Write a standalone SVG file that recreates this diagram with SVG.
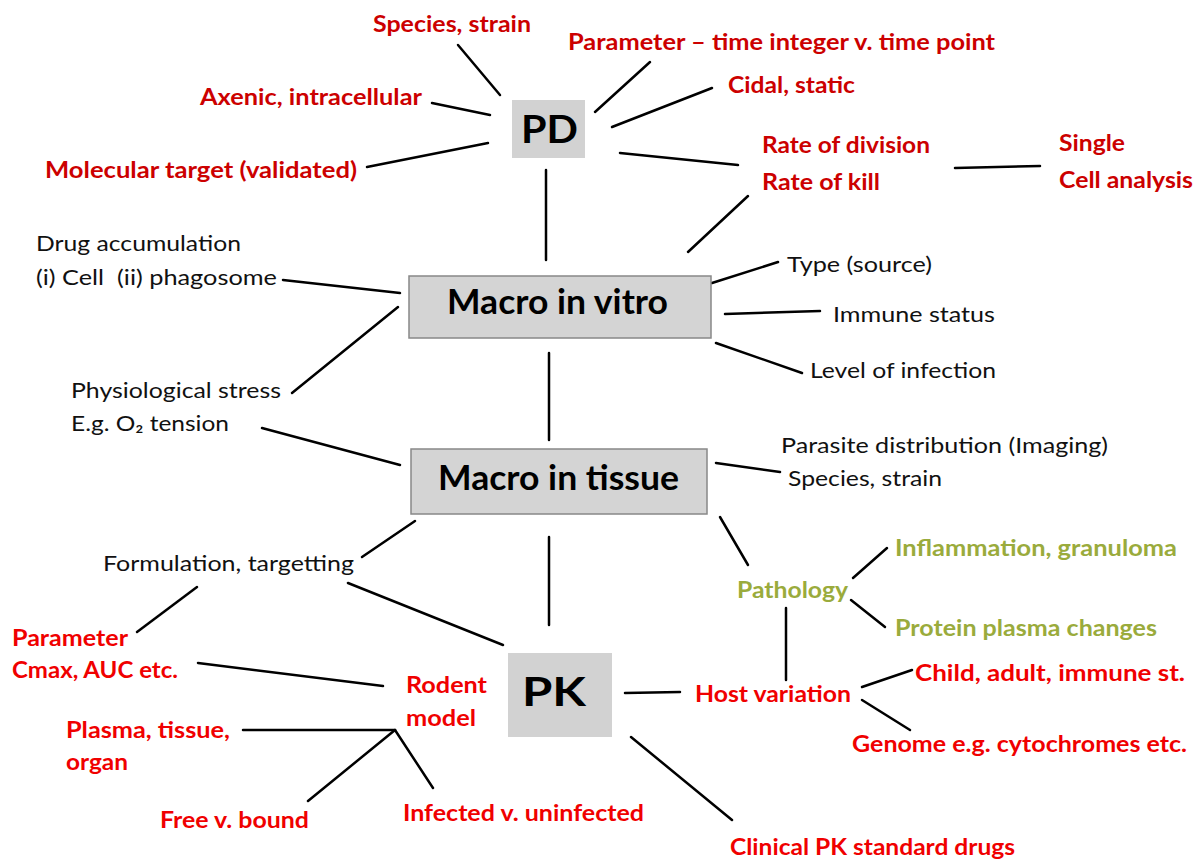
<svg xmlns="http://www.w3.org/2000/svg" width="1200" height="861" viewBox="0 0 1200 861">
<style>
text{font-family:Lato,"Open Sans","Liberation Sans",sans-serif;}
.r{fill:#cc0000;font-weight:bold;font-size:23px;}
.rb{fill:#f00000;font-weight:bold;font-size:23px;}
.g{fill:#9aab3c;font-weight:bold;font-size:23px;}
.k{fill:#111;font-size:22px;}
.n{fill:#000;font-weight:bold;}
.c line{stroke:#000;stroke-width:2.5;stroke-linecap:round;}
</style>
<rect width="1200" height="861" fill="#fff"/>
<g class="c" id="connectors">
<line x1="458" y1="45" x2="500" y2="95"/>
<line x1="650" y1="62" x2="595" y2="112"/>
<line x1="712" y1="88" x2="612" y2="127"/>
<line x1="432" y1="103" x2="490" y2="115"/>
<line x1="367" y1="167" x2="488" y2="143"/>
<line x1="620" y1="153" x2="738" y2="165"/>
<line x1="955" y1="168" x2="1040" y2="166"/>
<line x1="748" y1="196" x2="688" y2="252"/>
<line x1="546" y1="170" x2="546" y2="260"/>
<line x1="283" y1="280" x2="400" y2="293"/>
<line x1="712" y1="283" x2="778" y2="262"/>
<line x1="725" y1="314" x2="820" y2="311"/>
<line x1="716" y1="343" x2="802" y2="373"/>
<line x1="398" y1="307" x2="292" y2="393"/>
<line x1="549" y1="353" x2="549" y2="440"/>
<line x1="262" y1="428" x2="400" y2="465"/>
<line x1="716" y1="463" x2="780" y2="472"/>
<line x1="720" y1="517" x2="748" y2="565"/>
<line x1="853" y1="578" x2="887" y2="548"/>
<line x1="851" y1="600" x2="885" y2="627"/>
<line x1="786" y1="608" x2="786" y2="680"/>
<line x1="862" y1="687" x2="912" y2="670"/>
<line x1="862" y1="700" x2="910" y2="730"/>
<line x1="625" y1="693" x2="680" y2="692"/>
<line x1="631" y1="737" x2="732" y2="820"/>
<line x1="549" y1="537" x2="549" y2="625"/>
<line x1="415" y1="521" x2="362" y2="557"/>
<line x1="348" y1="583" x2="503" y2="645"/>
<line x1="197" y1="587" x2="137" y2="632"/>
<line x1="198" y1="663" x2="383" y2="686"/>
<line x1="243" y1="730" x2="395" y2="730"/>
<line x1="395" y1="730" x2="308" y2="801"/>
<line x1="395" y1="730" x2="433" y2="788"/>
</g>
<g id="pd"><rect x="512" y="100" width="73" height="58" fill="#d2d2d2"/><text class="n" x="521" y="143" font-size="38" textLength="57" lengthAdjust="spacingAndGlyphs">PD</text></g>
<g id="macro-vitro"><rect x="409" y="276" width="302" height="62" fill="#d4d4d4" stroke="#888" stroke-width="1.5"/><text class="n" x="447" y="314" font-size="34" textLength="221" lengthAdjust="spacingAndGlyphs">Macro in vitro</text></g>
<g id="macro-tissue"><rect x="411" y="449" width="296" height="65" fill="#d4d4d4" stroke="#888" stroke-width="1.5"/><text class="n" x="438" y="490" font-size="34" textLength="241" lengthAdjust="spacingAndGlyphs">Macro in tissue</text></g>
<g id="pk"><rect x="508" y="653" width="104" height="84" fill="#d2d2d2"/><text class="n" x="522" y="706" font-size="40" textLength="64" lengthAdjust="spacingAndGlyphs">PK</text></g>
<g id="species1"><text class="r" x="373" y="32" textLength="158" lengthAdjust="spacingAndGlyphs">Species, strain</text></g>
<g id="parameter-time"><text class="r" x="568" y="50" textLength="427" lengthAdjust="spacingAndGlyphs">Parameter – time integer v. time point</text></g>
<g id="cidal"><text class="r" x="728" y="93" textLength="127" lengthAdjust="spacingAndGlyphs">Cidal, static</text></g>
<g id="axenic"><text class="r" x="200" y="105" textLength="222" lengthAdjust="spacingAndGlyphs">Axenic, intracellular</text></g>
<g id="molecular"><text class="r" x="45" y="178" textLength="312" lengthAdjust="spacingAndGlyphs">Molecular target (validated)</text></g>
<g id="rate"><text class="r" x="762" y="153" textLength="168" lengthAdjust="spacingAndGlyphs">Rate of division</text><text class="r" x="762" y="190" textLength="118" lengthAdjust="spacingAndGlyphs">Rate of kill</text></g>
<g id="single"><text class="r" x="1059" y="151" textLength="66" lengthAdjust="spacingAndGlyphs">Single</text><text class="r" x="1059" y="188" textLength="134" lengthAdjust="spacingAndGlyphs">Cell analysis</text></g>
<g id="drug"><text class="k" x="36" y="251" textLength="205" lengthAdjust="spacingAndGlyphs">Drug accumulation</text><text class="k" x="36" y="285" textLength="241" lengthAdjust="spacingAndGlyphs" xml:space="preserve">(i) Cell  (ii) phagosome</text></g>
<g id="type"><text class="k" x="787" y="272" textLength="145" lengthAdjust="spacingAndGlyphs">Type (source)</text></g>
<g id="immune"><text class="k" x="833" y="322" textLength="162" lengthAdjust="spacingAndGlyphs">Immune status</text></g>
<g id="level"><text class="k" x="810" y="378" textLength="186" lengthAdjust="spacingAndGlyphs">Level of infection</text></g>
<g id="physio"><text class="k" x="71" y="398" textLength="210" lengthAdjust="spacingAndGlyphs">Physiological stress</text><text class="k" x="71" y="431" textLength="158" lengthAdjust="spacingAndGlyphs">E.g. O₂ tension</text></g>
<g id="parasite"><text class="k" x="781" y="453" textLength="327" lengthAdjust="spacingAndGlyphs">Parasite distribution (Imaging)</text><text class="k" x="788" y="486" textLength="154" lengthAdjust="spacingAndGlyphs">Species, strain</text></g>
<g id="pathology"><text class="g" x="737" y="598" textLength="111" lengthAdjust="spacingAndGlyphs">Pathology</text></g>
<g id="inflammation"><text class="g" x="895" y="556" textLength="282" lengthAdjust="spacingAndGlyphs">Inflammation, granuloma</text></g>
<g id="protein"><text class="g" x="895" y="636" textLength="262" lengthAdjust="spacingAndGlyphs">Protein plasma changes</text></g>
<g id="host"><text class="rb" x="695" y="702" textLength="156" lengthAdjust="spacingAndGlyphs">Host variation</text></g>
<g id="child"><text class="rb" x="915" y="681" textLength="270" lengthAdjust="spacingAndGlyphs">Child, adult, immune st.</text></g>
<g id="genome"><text class="rb" x="852" y="752" textLength="335" lengthAdjust="spacingAndGlyphs">Genome e.g. cytochromes etc.</text></g>
<g id="clinical"><text class="rb" x="730" y="855" textLength="285" lengthAdjust="spacingAndGlyphs">Clinical PK standard drugs</text></g>
<g id="formulation"><text class="k" x="103" y="571" textLength="251" lengthAdjust="spacingAndGlyphs">Formulation, targetting</text></g>
<g id="parameter-cmax"><text class="rb" x="12" y="646" textLength="116" lengthAdjust="spacingAndGlyphs">Parameter</text><text class="rb" x="12" y="678" textLength="166" lengthAdjust="spacingAndGlyphs">Cmax, AUC etc.</text></g>
<g id="rodent"><text class="rb" x="406" y="693" textLength="81" lengthAdjust="spacingAndGlyphs">Rodent</text><text class="rb" x="406" y="726" textLength="70" lengthAdjust="spacingAndGlyphs">model</text></g>
<g id="plasma"><text class="rb" x="66" y="738" textLength="164" lengthAdjust="spacingAndGlyphs">Plasma, tissue,</text><text class="rb" x="66" y="770" textLength="62" lengthAdjust="spacingAndGlyphs">organ</text></g>
<g id="free"><text class="rb" x="160" y="828" textLength="149" lengthAdjust="spacingAndGlyphs">Free v. bound</text></g>
<g id="infected"><text class="rb" x="403" y="821" textLength="241" lengthAdjust="spacingAndGlyphs">Infected v. uninfected</text></g>
</svg>
